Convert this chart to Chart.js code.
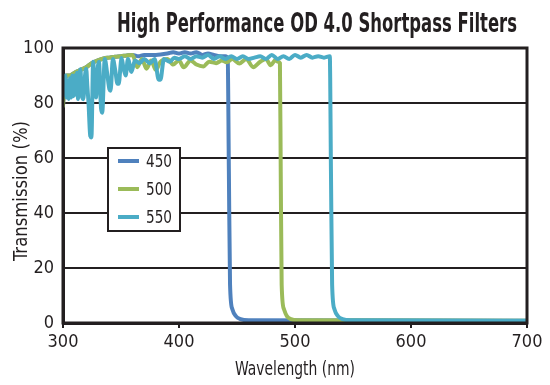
<!DOCTYPE html>
<html>
<head>
<meta charset="utf-8">
<script src="https://cdn.jsdelivr.net/npm/chart.js@4.4.1/dist/chart.umd.min.js"></script>
<style>
  html, body { margin: 0; padding: 0; background: #fff; }
  #wrap { width: 550px; height: 385px; position: relative; }
</style>
</head>
<body>
<div id="wrap"><canvas id="chart"></canvas></div>
<script>
// Datos (longitud de onda en nm, transmisión en %)
const wl450 = [300, 301, 303, 306, 310, 315, 320, 325, 330, 335, 340, 345, 350, 355, 360, 365, 370, 380, 390, 395, 400, 405, 410, 415, 420, 425, 430, 435, 440, 442, 443, 444, 446, 449, 453, 460, 700];
const t450  = [79, 85, 90, 90, 91, 92, 93, 94.6, 95.5, 96.2, 96.5, 96.8, 97, 97.3, 97.5, 97, 97.5, 97.5, 98, 98.5, 98, 98.5, 98, 98.5, 97.5, 98, 97.5, 97, 97, 96, 55, 14, 5, 2.5, 1.4, 1, 0.8];

const wl500 = [300, 301, 303, 306, 310, 315, 320, 325, 330, 335, 340, 345, 350, 355, 360, 364, 368, 372, 376, 380, 384, 390, 395, 400, 404, 410, 415, 421, 426, 432, 437, 441, 446, 452, 458, 464, 470, 475, 479, 483, 485.5, 487, 487.7, 488.5, 490.5, 493, 496.5, 502, 700];
const t500  = [79, 85, 90, 90, 91, 92, 93, 94.6, 95.5, 96.2, 96.5, 96.8, 97, 97.3, 97.5, 93, 96, 92.5, 95.5, 92, 95, 96, 94, 95.5, 93, 95.5, 94, 93.3, 95, 94.5, 95.5, 94.8, 96, 94.4, 96, 93, 95, 96, 93.7, 95.6, 95, 94.5, 55, 14, 5, 2.5, 1.4, 1, 0.8];

const wl550 = [300, 301, 302, 303, 304, 305, 306, 307, 308, 309, 310, 311, 312, 313, 314, 315, 316, 317.5, 319, 320, 321, 322, 323.5, 324.5, 326, 327, 328.4, 330, 331, 332.8, 333.8, 336, 338, 340, 341, 343, 345, 347, 348, 350.5, 352, 354, 356, 359, 362, 366, 370, 375, 379, 382.5, 384, 387, 392, 396, 400, 405, 410, 415, 420, 425, 430, 435, 440, 445, 450, 455, 460, 465, 470, 475, 480, 485, 490, 495, 500, 505, 510, 515, 520, 525, 530, 531, 532, 534, 537, 541, 548, 700];
const t550  = [89, 83, 90, 82, 88, 81.5, 89, 82, 90, 82.5, 90, 83, 91, 81.5, 90, 92.3, 84, 81.4, 90, 92.5, 86, 80, 68, 67.5, 95, 88, 82, 93, 95, 78, 76.5, 96, 91, 85, 84.5, 96, 92, 87, 87, 96.4, 93, 90, 96, 91.3, 95.5, 94.5, 96, 94.5, 96, 88.5, 88.5, 96, 95, 96.5, 96, 97, 96, 97, 96.5, 97.5, 96, 97, 96, 97, 96, 97, 96, 96.5, 97, 96, 97.5, 96, 97, 96, 97.5, 96.5, 97.5, 96.5, 97, 96.5, 97, 55, 14, 5, 2.5, 1.4, 1, 0.8];

const labels = ['450', '500', '550'];
const colors = ['#4f81bd', '#9bbb59', '#4bacc6'];

const ink = '#231f20';
const narrow = "'DejaVu Sans Condensed', 'Liberation Sans Narrow', sans-serif";

function toPoints(xs, ys) {
    return xs.map((x, i) => ({ x: x, y: ys[i] }));
}

// texto estrechado para imitar la fuente condensada del original
function squeezedText(ctx, txt, x, y, width, rotate) {
    const w = ctx.measureText(txt).width;
    ctx.save();
    ctx.translate(x, y);
    if (rotate) ctx.rotate(-Math.PI / 2);
    ctx.scale(width / w, 1);
    ctx.fillText(txt, 0, 0);
    ctx.restore();
}

// Título, marco y títulos de ejes dibujados a mano
const framePlugin = {
    id: 'frame',
    afterDraw(chart) {
        const ctx = chart.ctx;
        const a = chart.chartArea;
        ctx.save();
        ctx.strokeStyle = ink;
        ctx.lineWidth = 3;
        ctx.strokeRect(a.left, a.top, a.right - a.left, a.bottom - a.top);

        ctx.fillStyle = ink;
        ctx.textBaseline = 'alphabetic';
        ctx.textAlign = 'center';

        ctx.font = "bold 26px " + narrow;
        squeezedText(ctx, 'High Performance OD 4.0 Shortpass Filters', 317, 32, 400, false);

        ctx.font = "19px " + narrow;
        squeezedText(ctx, 'Wavelength (nm)', (a.left + a.right) / 2, 375, 120, false);
        squeezedText(ctx, 'Transmission (%)', 27, 191, 140, true);
        ctx.restore();
    }
};

// Leyenda en un recuadro dentro del área del gráfico
const legendBox = {
    id: 'legendBox',
    afterDraw(chart) {
        const ctx = chart.ctx;
        ctx.save();
        ctx.fillStyle = '#fff';
        ctx.fillRect(108, 148, 72, 83);
        ctx.strokeStyle = ink;
        ctx.lineWidth = 2;
        ctx.strokeRect(108, 148, 72, 83);
        ctx.font = "18px " + narrow;
        ctx.textBaseline = 'middle';
        ctx.textAlign = 'left';
        ctx.fillStyle = ink;
        chart.data.datasets.forEach((ds, i) => {
            const y = 161 + i * 28;
            ctx.strokeStyle = ds.borderColor;
            ctx.lineWidth = 4;
            ctx.beginPath();
            ctx.moveTo(118, y);
            ctx.lineTo(139, y);
            ctx.stroke();
            squeezedText(ctx, ds.label, 146, y + 1, 26, false);
        });
        ctx.restore();
    }
};

new Chart(document.getElementById('chart'), {
    type: 'line',
    data: {
        datasets: [
            // order alto = se dibuja debajo; 550 queda encima como en el original
            { label: labels[0], data: toPoints(wl450, t450), borderColor: colors[0], order: 3 },
            { label: labels[1], data: toPoints(wl500, t500), borderColor: colors[1], order: 2 },
            { label: labels[2], data: toPoints(wl550, t550), borderColor: colors[2], order: 1 }
        ].map(ds => Object.assign(ds, {
            borderWidth: 4,
            pointRadius: 0,
            fill: false,
            cubicInterpolationMode: 'monotone',
            borderJoinStyle: 'round',
            borderCapStyle: 'round'
        }))
    },
    options: {
        responsive: true,
        maintainAspectRatio: false,
        animation: false,
        layout: {
            padding: { top: 48, right: 23, left: 0, bottom: 0 }
        },
        plugins: {
            legend: { display: false },
            title: { display: false },
            tooltip: { enabled: false }
        },
        scales: {
            x: {
                type: 'linear',
                min: 300,
                max: 700,
                afterFit: (scale) => { scale.height = 62; },
                ticks: {
                    stepSize: 100,
                    color: ink,
                    padding: 4,
                    font: { family: narrow, size: 18 }
                },
                grid: {
                    drawOnChartArea: false,
                    tickLength: 5,
                    color: ink,
                    lineWidth: 2
                },
                border: { color: ink, width: 3 }
            },
            y: {
                min: 0,
                max: 100,
                afterFit: (scale) => { scale.width = 63; },
                ticks: {
                    stepSize: 20,
                    color: ink,
                    padding: 9,
                    font: { family: narrow, size: 18 }
                },
                grid: {
                    color: ink,
                    lineWidth: 2,
                    drawTicks: false
                },
                border: { color: ink, width: 3 }
            }
        }
    },
    plugins: [framePlugin, legendBox]
});
</script>
</body>
</html>
